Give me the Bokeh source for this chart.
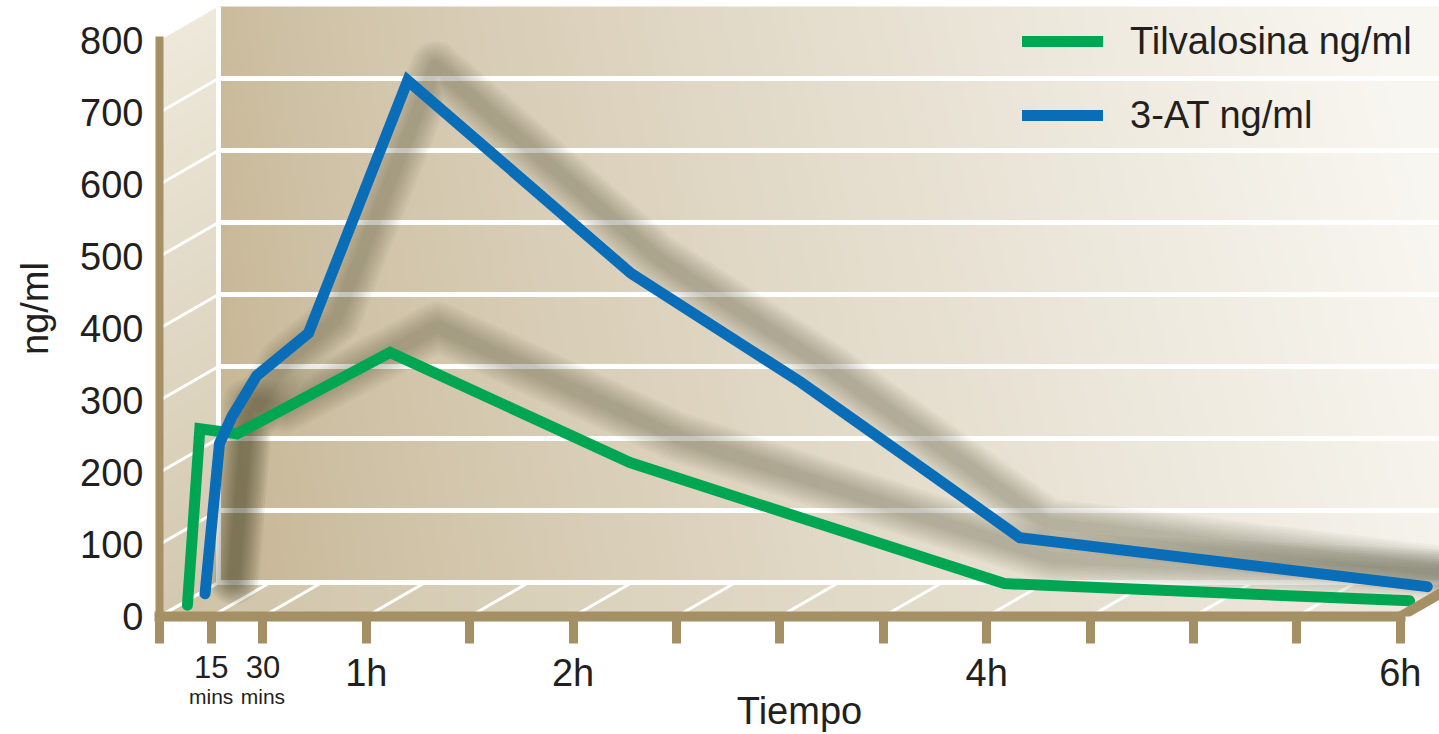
import numpy as np
from bokeh.plotting import figure
from bokeh.models import Range1d, FixedTicker, Legend, LegendItem, LinearAxis
from bokeh.embed import file_html
from bokeh.resources import INLINE

# ---------------- data ----------------
series_names = ["Tilvalosina ng/ml", "3-AT ng/ml"]
tilv_hours = [0.04, 0.10, 0.28, 1.02, 2.18, 3.99, 5.95]
tilv_ngml = [0, 245, 238, 351, 198, 30, 6]
at3_hours = [0.03, 0.10, 0.16, 0.28, 0.53, 1.01, 2.09, 2.91, 3.55, 3.97, 5.94]
at3_ngml = [0, 209, 246, 303, 362, 713, 445, 294, 164, 78, 10]

y_ticks = [0, 100, 200, 300, 400, 500, 600, 700, 800]
x_ticks = [0, 0.25, 0.5, 1, 1.5, 2, 2.5, 3, 3.5, 4, 4.5, 5, 5.5, 6]
hour_text = {1: "1h", 2: "2h", 4: "4h", 6: "6h"}
minute_ticks = [0.25, 0.5]
minute_text = ["15", "30"]
minute_unit = "mins"
x_title = "Tiempo"
y_title = "ng/ml"

# ---------------- styling / geometry ----------------
W, H = 1439, 734
FRAME_LEFT, FRAME_BOTTOM_PAD = 159, 118
FW, FH = W - FRAME_LEFT, H - FRAME_BOTTOM_PAD
PX_PER_H = 206.8
PX_PER_V = 0.72
X_END = FW / PX_PER_H
Y_END = FH / PX_PER_V
X_MAX, Y_MAX = 6, 800
DX = 59 / PX_PER_H          # depth of the box (hours)
DY = 34 / PX_PER_V          # depth of the box (ng/ml)

TAN = "#a49064"
TEXT = "#231f20"
GREEN = "#00a651"
BLUE = "#0a6db8"
FONT = "Liberation Sans"

p = figure(width=W, height=H, x_range=Range1d(0, X_END), y_range=Range1d(0, Y_END),
           output_backend="svg", toolbar_location=None,
           min_border_left=FRAME_LEFT, min_border_right=0, min_border_top=0,
           min_border_bottom=FRAME_BOTTOM_PAD)
p.outline_line_color = None
p.grid.visible = False
p.background_fill_color = "white"
p.border_fill_color = "white"

# ---------------- background (walls & floor, gradient raster) ----------------
jj, ii = np.mgrid[0:FH, 0:FW]
t = (ii + 0.5) / PX_PER_H
v = (jj + 0.5) / PX_PER_V
rgb = np.full((FH, FW, 3), 255.0)

def mix(c0, c1, f):
    c0 = np.array(c0, float); c1 = np.array(c1, float)
    f = np.clip(f, 0, 1)[..., None]
    return c0 * (1 - f) + c1 * f

back = (t >= DX) & (v >= DY) & (v <= Y_MAX + DY)
u = (t - DX) / (X_END - DX)
w = (v - DY) / Y_MAX
f_back = np.clip(np.clip(u, 0, 1) ** 0.8 + 0.10 * (w - 0.5), 0, 1)
rgb[back] = mix((200, 184, 152), (248, 246, 240), f_back)[back]

s = np.clip(t / DX, 0, 1)
side = (t < DX) & (v >= DY * s) & (v <= Y_MAX + DY * s)
g = (v - DY * s) / Y_MAX
rgb[side] = mix((212, 201, 176), (238, 233, 219), g)[side]

floor = (v < DY) & (t >= DX * v / DY) & (t <= X_MAX + DX * v / DY)
rgb[floor] = mix((206, 194, 165), (238, 234, 223), np.clip(t / X_END, 0, 1) ** 0.8)[floor]

img = np.zeros((FH, FW, 4), dtype=np.uint8)
img[..., :3] = rgb.astype(np.uint8)
img[..., 3] = 255
p.image_rgba(image=[img.view(np.uint32).reshape(FH, FW)], x=0, y=0, dw=X_END, dh=Y_END)

# ---------------- 3D grid ----------------
bx = [[DX, X_END] for yv in y_ticks[:-1]] + [[DX, DX]]
by = [[yv + DY, yv + DY] for yv in y_ticks[:-1]] + [[DY, Y_MAX + DY]]
p.multi_line(bx, by, line_color="white", line_width=5)
sx = [[0, DX] for yv in y_ticks[:-1]] + [[xt, xt + DX] for xt in x_ticks]
sy = [[yv, yv + DY] for yv in y_ticks[:-1]] + [[0, DY] for xt in x_ticks]
p.multi_line(sx, sy, line_color="white", line_width=3)

# ---------------- soft shadows cast on the back wall ----------------
def shadow(xs, ys):
    shx = [x + DX + 8 / PX_PER_H for x in xs]
    shy = [y + DY + 3 / PX_PER_V for y in ys]
    for lw in np.linspace(50, 12, 9):
        p.line(shx, shy, line_color="#3a3629", line_alpha=0.036, line_width=float(lw),
               line_join="round", line_cap="round")

shadow(tilv_hours, tilv_ngml)
shadow(at3_hours, at3_ngml)

# ---------------- series (front row green, back row blue) ----------------
g_line = p.line([x + DX / 3 for x in tilv_hours], [y + DY / 3 for y in tilv_ngml],
                line_color=GREEN, line_width=11, line_join="miter", line_cap="round")
b_line = p.line([x + 2 * DX / 3 for x in at3_hours], [y + 2 * DY / 3 for y in at3_ngml],
                line_color=BLUE, line_width=11, line_join="miter", line_cap="round")

# right edge of the floor
p.line([X_MAX, X_MAX + DX], [0, DY], line_color=TAN, line_width=10)

# ---------------- axes ----------------
xa = p.xaxis[0]
xa.ticker = FixedTicker(ticks=x_ticks)
xa.major_label_overrides = {xt: hour_text.get(xt, "") for xt in x_ticks}
xa.bounds = (0, X_MAX)
xa.axis_line_color = TAN
xa.axis_line_width = 10
xa.axis_line_cap = "square"
xa.major_tick_line_color = TAN
xa.major_tick_line_width = 9
xa.major_tick_out = 27
xa.major_tick_in = 0
xa.minor_tick_line_color = None
xa.major_label_standoff = 8
xa.major_label_text_font = FONT
xa.major_label_text_font_size = "38px"
xa.major_label_text_color = TEXT

# smaller minute numbers, pulled up into the same row as the hour labels
xm = LinearAxis(ticker=FixedTicker(ticks=minute_ticks),
                major_label_overrides=dict(zip(minute_ticks, minute_text)),
                axis_line_color=None, major_tick_line_color=None, minor_tick_line_color=None,
                major_tick_out=0, major_tick_in=0, major_label_standoff=-41,
                major_label_text_font=FONT, major_label_text_font_size="31px",
                major_label_text_color=TEXT)
p.add_layout(xm, "below")

# "mins" row and the axis title
xb = LinearAxis(ticker=FixedTicker(ticks=minute_ticks),
                major_label_overrides={mt: minute_unit for mt in minute_ticks},
                axis_line_color=None, major_tick_line_color=None, minor_tick_line_color=None,
                major_tick_out=0, major_tick_in=0, major_label_standoff=-12,
                major_label_text_font=FONT, major_label_text_font_size="21px",
                major_label_text_color=TEXT,
                axis_label=x_title, axis_label_text_font=FONT, axis_label_text_font_size="38px",
                axis_label_text_font_style="normal", axis_label_text_color=TEXT,
                axis_label_standoff=-21)
p.add_layout(xb, "below")

ya = p.yaxis[0]
ya.ticker = FixedTicker(ticks=y_ticks)
ya.bounds = (0, Y_MAX)
ya.axis_line_color = TAN
ya.axis_line_width = 8
ya.axis_line_cap = "square"
ya.major_tick_line_color = None
ya.major_tick_out = 0
ya.major_tick_in = 0
ya.minor_tick_line_color = None
ya.major_label_standoff = 16
ya.major_label_text_font = FONT
ya.major_label_text_font_size = "38px"
ya.major_label_text_color = TEXT
ya.axis_label = y_title
ya.axis_label_text_font = FONT
ya.axis_label_text_font_size = "38px"
ya.axis_label_text_font_style = "normal"
ya.axis_label_text_color = TEXT
ya.axis_label_standoff = 21

# ---------------- legend ----------------
legend = Legend(items=[LegendItem(label=series_names[0], renderers=[g_line]),
                       LegendItem(label=series_names[1], renderers=[b_line])],
                location=(863, 476), glyph_width=81, glyph_height=50, label_height=50,
                label_standoff=27, spacing=24, padding=0, margin=0,
                label_text_font=FONT, label_text_font_size="38px", label_text_color=TEXT,
                background_fill_alpha=0, border_line_alpha=0)
p.add_layout(legend)

open("out.html", "w").write(file_html(p, INLINE))
